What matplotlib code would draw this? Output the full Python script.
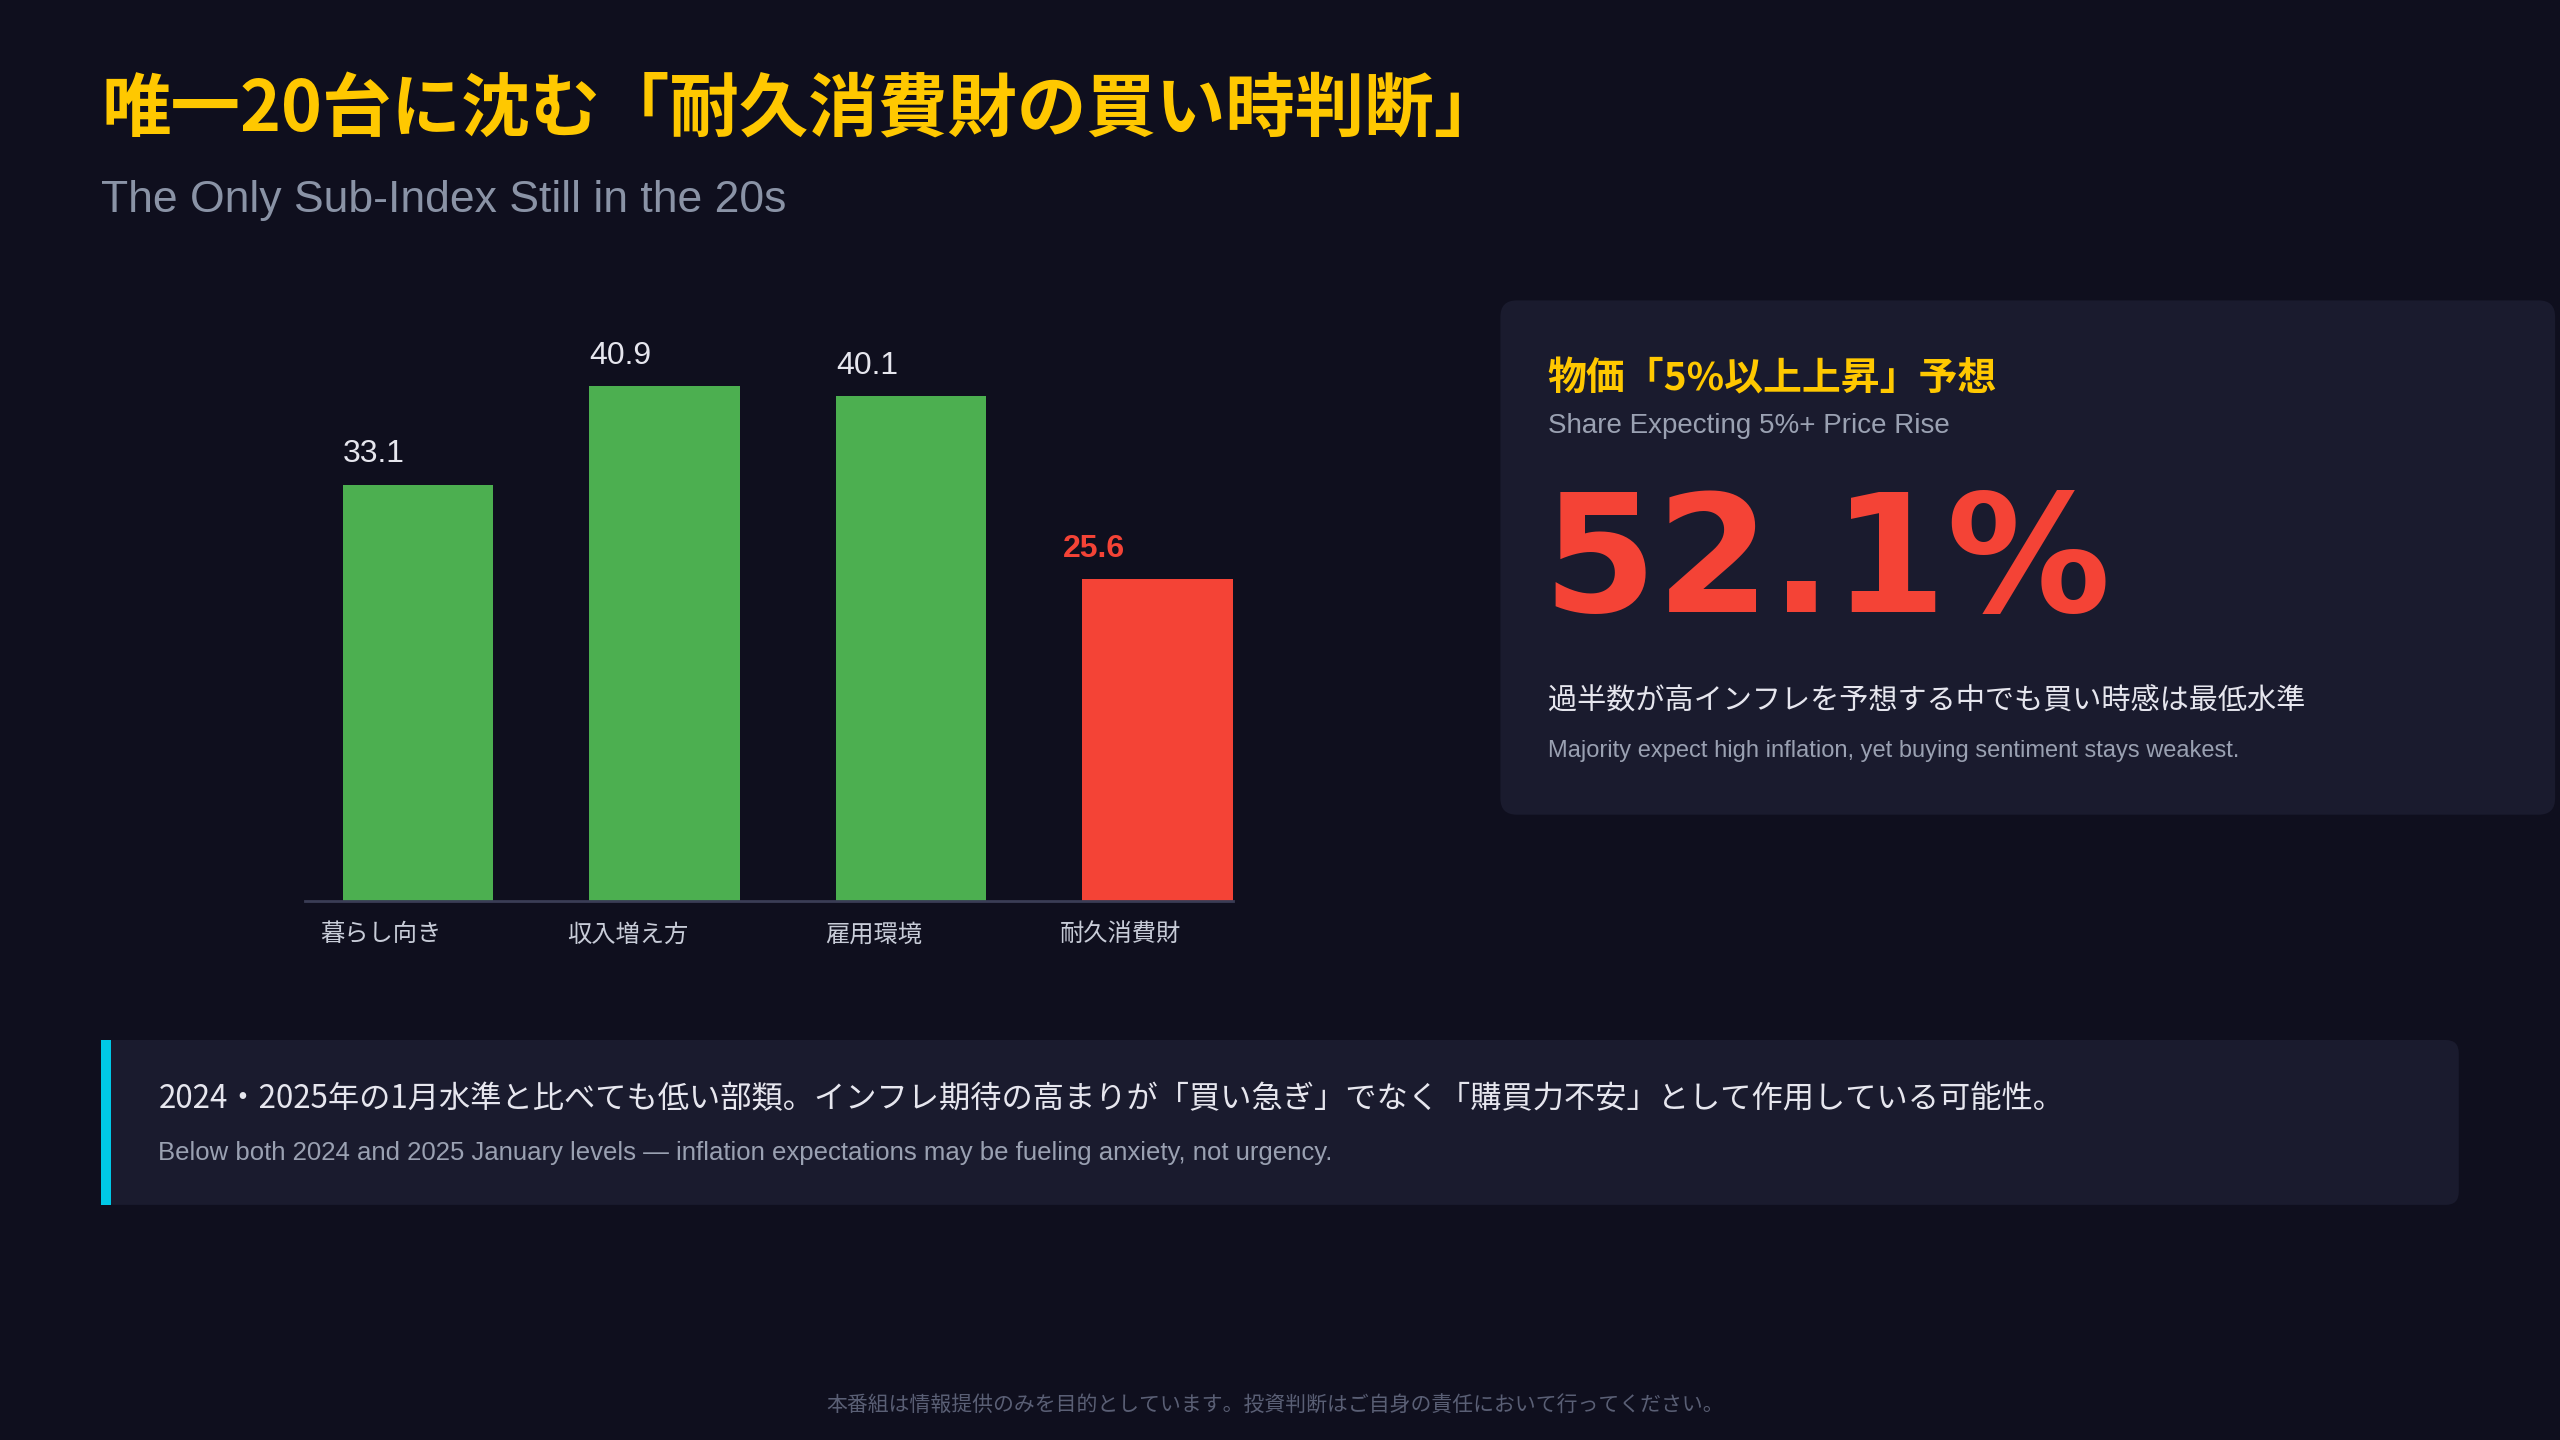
import matplotlib
matplotlib.use("Agg")
import matplotlib.pyplot as plt
from matplotlib.patches import FancyBboxPatch, Rectangle

plt.rcParams['font.family'] = ['Noto Sans CJK JP', 'DejaVu Sans']

# data
categories = ['暮らし向き', '収入増え方', '雇用環境', '耐久消費財']
values = [33.1, 40.9, 40.1, 25.6]
highlight = [False, False, False, True]

title = '唯一20台に沈む「耐久消費財の買い時判断」'
subtitle = 'The Only Sub-Index Still in the 20s'
kpi_title = '物価「5%以上上昇」予想'
kpi_sub = 'Share Expecting 5%+ Price Rise'
kpi_value = '52.1%'
kpi_note = '過半数が高インフレを予想する中でも買い時感は最低水準'
kpi_note_en = 'Majority expect high inflation, yet buying sentiment stays weakest.'
callout = '2024・2025年の1月水準と比べても低い部類。インフレ期待の高まりが「買い急ぎ」でなく「購買力不安」として作用している可能性。'
callout_en = 'Below both 2024 and 2025 January levels — inflation expectations may be fueling anxiety, not urgency.'
footer = '本番組は情報提供のみを目的としています。投資判断はご自身の責任において行ってください。'

BG = '#0f0f1e'
CARD = '#1a1b2e'
GREEN = '#4caf50'
RED = '#f44336'
YELLOW = '#ffc800'
LATIN = ['Liberation Sans', 'DejaVu Sans']

fig = plt.figure(figsize=(25.6, 14.4), dpi=100, facecolor=BG)

# overlay in reference pixel units (1568 x 882)
bg = fig.add_axes([0, 0, 1, 1])
bg.set_xlim(0, 1568)
bg.set_ylim(882, 0)
bg.axis('off')
bg.set_facecolor(BG)

bg.text(62, 68, title, color=YELLOW, fontsize=50, fontweight='bold', va='center')
bg.text(62, 123, subtitle, color='#8a93a6', fontsize=32, va='center', family=LATIN)

# KPI card
bg.add_patch(FancyBboxPatch((919, 184), 646, 315, boxstyle='round,pad=0,rounding_size=10',
                            fc=CARD, ec='none'))
bg.text(948, 232, kpi_title, color=YELLOW, fontsize=28, fontweight='bold', va='center')
bg.text(948, 261, kpi_sub, color='#9aa1b2', fontsize=20, va='center', family=LATIN)
bg.text(945, 347, kpi_value, color=RED, fontsize=118, fontweight='bold', va='center',
        family=['DejaVu Sans'])
bg.text(948, 430, kpi_note, color='#e6e6ee', fontsize=21, va='center')
bg.text(948, 460, kpi_note_en, color='#9aa1b2', fontsize=17, va='center', family=LATIN)

# callout box
bg.add_patch(FancyBboxPatch((62, 637), 1444, 101, boxstyle='round,pad=0,rounding_size=8',
                            fc=CARD, ec='none'))
bg.add_patch(Rectangle((62, 637), 6, 101, fc='#00c8e6', ec='none'))
bg.text(97, 673, callout, color='#e6e6ee', fontsize=22.5, va='center')
bg.text(97, 706, callout_en, color='#9aa1b2', fontsize=18.5, va='center', family=LATIN)

bg.text(781, 861, footer, color='#5a5f75', fontsize=15, ha='center', va='center')

# bar chart
ax = fig.add_axes([187 / 1568, 1 - 552 / 882, (755 - 187) / 1568, (552 - 205) / 882])
ax.set_facecolor('none')
x = list(range(len(values)))
colors = [RED if h else GREEN for h in highlight]
w = 92 / 151
ax.bar(x, values, width=w, color=colors, zorder=2)
ax.set_xlim(-69 / 151, 3 + 46 / 151)
ax.set_ylim(0, 45)
for s in ['top', 'right', 'left']:
    ax.spines[s].set_visible(False)
ax.spines['bottom'].set_color('#3a3d55')
ax.spines['bottom'].set_linewidth(2)
ax.set_yticks([])
ax.set_xticks([])
for i, (v, h) in enumerate(zip(values, highlight)):
    ax.text(i - w / 2 - (0.08 if h else 0), v + 1.2, f'{v:.1f}', color=RED if h else '#e6e6ee',
            fontsize=23, fontweight='bold' if h else 'normal', ha='left', va='bottom',
            family=LATIN)
    ax.text(i - 0.15, -1.6, categories[i], color='#c8ccd8', fontsize=17.5, ha='center', va='top')

fig.savefig('out.png', dpi=100, facecolor=BG)
